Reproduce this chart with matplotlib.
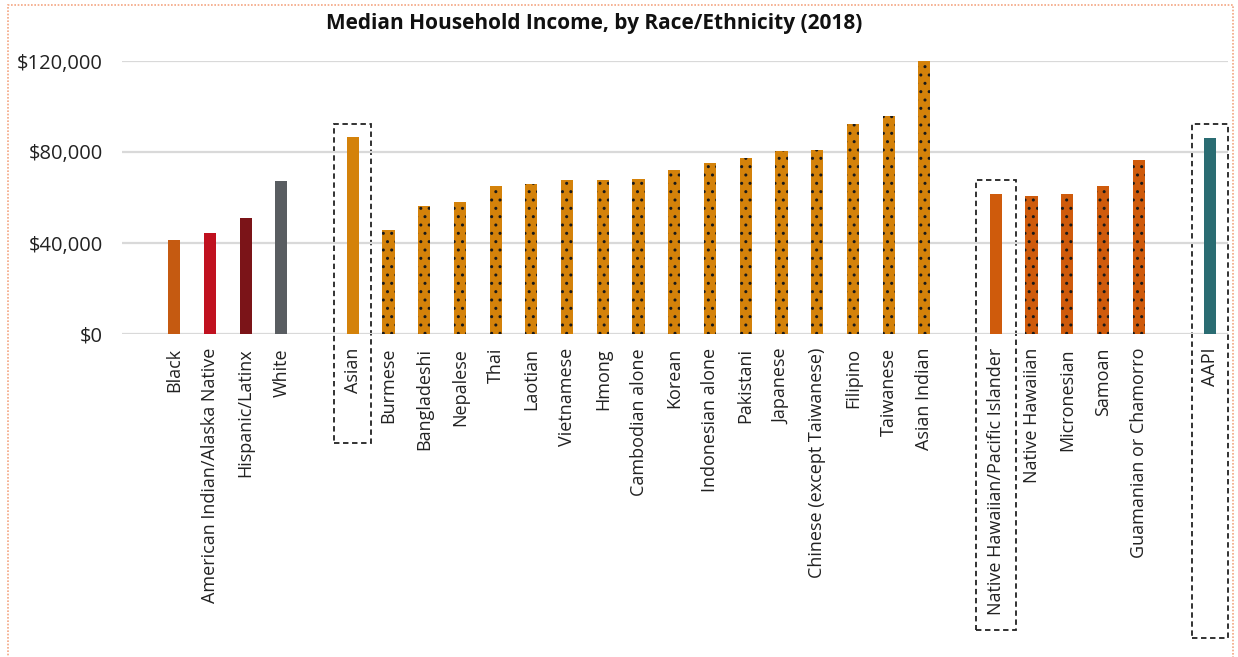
import matplotlib
matplotlib.use("Agg")
import matplotlib.pyplot as plt
from matplotlib.patches import Rectangle
import matplotlib.transforms as mtransforms
from matplotlib.ticker import FuncFormatter

plt.rcParams['font.family'] = ['Open Sans', 'DejaVu Sans']
plt.rcParams['hatch.color'] = '#1a1a1a'
plt.rcParams['hatch.linewidth'] = 1.0

# data
labels = ['Black', 'American Indian/Alaska Native', 'Hispanic/Latinx', 'White',
          'Asian', 'Burmese', 'Bangladeshi', 'Nepalese', 'Thai', 'Laotian',
          'Vietnamese', 'Hmong', 'Cambodian alone', 'Korean', 'Indonesian alone',
          'Pakistani', 'Japanese', 'Chinese (except Taiwanese)', 'Filipino',
          'Taiwanese', 'Asian Indian',
          'Native Hawaiian/Pacific Islander', 'Native Hawaiian', 'Micronesian',
          'Samoan', 'Guamanian or Chamorro',
          'AAPI']
incomes = [41400, 44200, 50900, 67300,
           86700, 45500, 56200, 57900, 65200, 66100,
           67500, 67500, 68300, 72100, 75100,
           77400, 80300, 81000, 92300, 95800, 119800,
           61500, 60700, 61500, 65200, 76600,
           86200]
# slot of each bar (empty slot between groups)
slots = [0, 1, 2, 3,
         5, 6, 7, 8, 9, 10, 11, 12, 13, 14, 15, 16, 17, 18, 19, 20, 21,
         23, 24, 25, 26, 27,
         29]
colors = ['#C55A11', '#C0111F', '#7B1418', '#595D61'] + \
         ['#D4820A'] * 17 + ['#CF5B0C'] * 5 + ['#2A6C72']
dotted = [False] * 5 + [True] * 16 + [False] + [True] * 4 + [False]
boxed = ['Asian', 'Native Hawaiian/Pacific Islander', 'AAPI']

fig = plt.figure(figsize=(12.38, 6.57), dpi=100)
ax = fig.add_axes([122 / 1238, 1 - 334 / 657, 1106 / 1238, 273 / 657])

for s, v, c, d in zip(slots, incomes, colors, dotted):
    ax.bar(s, v, width=0.34, color=c, hatch='..' if d else None,
           linewidth=0, zorder=3)

ax.set_xlim(-1.46, 29.5)
ax.set_ylim(0, 120000)
ax.set_yticks([0, 40000, 80000, 120000])
ax.yaxis.set_major_formatter(FuncFormatter(lambda v, p: '${:,.0f}'.format(v)))
ax.tick_params(axis='y', length=0, labelsize=14.5, pad=14, labelcolor='#222222')
ax.set_xticks(slots)
ax.set_xticklabels(labels, rotation=90, fontsize=13, color='#222222')
ax.tick_params(axis='x', length=0, pad=10)
ax.grid(axis='y', color='#D9D9D9', linewidth=1.6, zorder=0)
for sp in ax.spines.values():
    sp.set_visible(False)

# dashed highlight boxes
trans = mtransforms.blended_transform_factory(ax.transData, fig.transFigure)
box_y = {'Asian': (124, 443), 'Native Hawaiian/Pacific Islander': (180, 630),
         'AAPI': (124, 638)}
box_w = {'Asian': 1.04, 'Native Hawaiian/Pacific Islander': 1.12, 'AAPI': 1.0}
for name in boxed:
    s = slots[labels.index(name)]
    top, bot = box_y[name]
    w = box_w[name]
    ax.add_patch(Rectangle((s - w / 2, 1 - bot / 657), w, (bot - top) / 657,
                           transform=trans, fill=False, edgecolor='#222222',
                           linestyle=(0, (3, 2)), linewidth=1.3, clip_on=False))

# outer dotted frame
fig.add_artist(Rectangle((8 / 1238, -0.05), 1225 / 1238, 1.05 - 5 / 657,
                         transform=fig.transFigure, fill=False,
                         edgecolor='#F4A582', linestyle=(0, (1, 1)),
                         linewidth=1.2))

fig.text(594 / 1238, 1 - 24 / 657,
         'Median Household Income, by Race/Ethnicity (2018)',
         ha='center', va='center', fontsize=15, fontweight='bold',
         color='#111111')

fig.savefig('out.png', dpi=100)
